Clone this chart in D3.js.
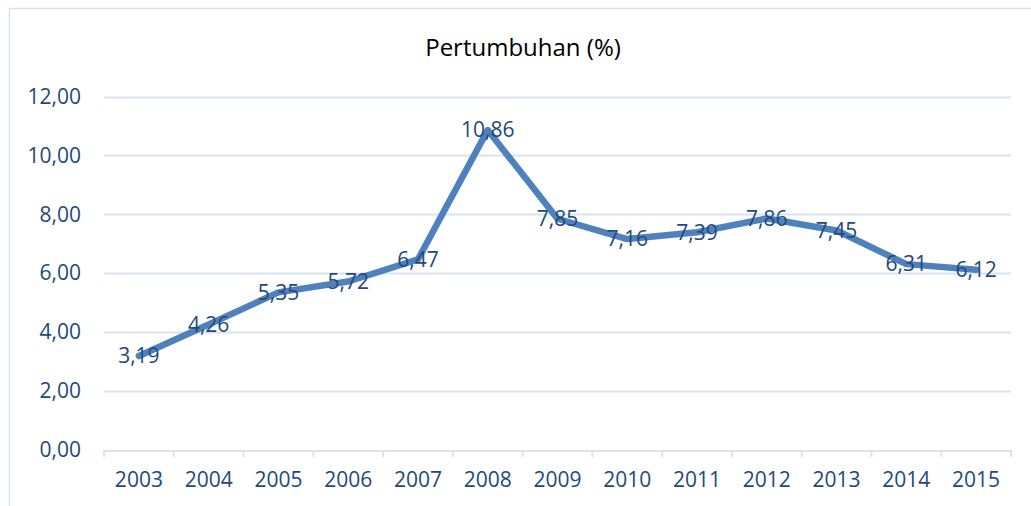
<!DOCTYPE html>
<html><head><meta charset="utf-8">
<script src="https://cdn.jsdelivr.net/npm/d3@7"></script>
<style>html,body{margin:0;padding:0;background:#fff;}svg{display:block;}</style>
</head><body>
<svg id="chart" width="1031" height="506"></svg>
<script>
const title = "Pertumbuhan (%)";
const years = ["2003","2004","2005","2006","2007","2008","2009","2010","2011","2012","2013","2014","2015"];
const growth = [3.19,4.26,5.35,5.72,6.47,10.86,7.85,7.16,7.39,7.86,7.45,6.31,6.12];
const yTicks = [0,2,4,6,8,10,12];

const svg = d3.select("#chart");
const W = 1031, H = 506;
const font = "'Open Sans', sans-serif";
const textColor = "#23497B";
const fmt = v => d3.format(".2f")(v).replace(".", ",");

// chart area border (top and left visible)
svg.append("line").attr("x1",9.5).attr("x2",W).attr("y1",8.5).attr("y2",8.5)
  .attr("stroke","#D5E1F1").attr("stroke-width",1.5);
svg.append("line").attr("x1",9.5).attr("x2",9.5).attr("y1",8).attr("y2",H)
  .attr("stroke","#D5E1F1").attr("stroke-width",1.5);

const x = d3.scaleBand().domain(years).range([104, 1011]);
const y = d3.scaleLinear().domain([0,12]).range([450, 96.5]);

// gridlines
svg.append("g").selectAll("line").data(yTicks.filter(d=>d>0)).join("line")
  .attr("x1",104).attr("x2",1011)
  .attr("y1",d=>Math.round(y(d))+0.5).attr("y2",d=>Math.round(y(d))+0.5)
  .attr("stroke","#D9E4F2").attr("stroke-width",2);

// y axis labels
const yAxis = svg.append("g").attr("transform","translate(81,0)")
  .call(d3.axisLeft(y).tickValues(yTicks).tickFormat(fmt).tickSize(0).tickPadding(0));
yAxis.select(".domain").remove();
yAxis.selectAll("text").attr("font-family",font).attr("font-size",21).attr("fill",textColor);

// x axis
const xAxis = svg.append("g").attr("transform","translate(0,450.5)")
  .call(d3.axisBottom(x).tickSizeOuter(0).tickSize(0).tickPadding(22));
xAxis.select(".domain").attr("stroke","#D9E4F2").attr("stroke-width",2);
xAxis.selectAll("text").attr("font-family",font).attr("font-size",21).attr("fill",textColor);
// category boundary ticks
const bounds = years.map(d=>x(d)).concat([x(years[years.length-1])+x.bandwidth()]);
svg.append("g").selectAll("line").data(bounds).join("line")
  .attr("x1",d=>d).attr("x2",d=>d).attr("y1",450).attr("y2",457)
  .attr("stroke","#D9E4F2").attr("stroke-width",2);

// line
const line = d3.line().x((d,i)=>x(years[i])+x.bandwidth()/2).y(d=>y(d));
svg.append("path").datum(growth).attr("d",line).attr("fill","none")
  .attr("stroke","#4F81BD").attr("stroke-width",6.5)
  .attr("stroke-linejoin","round").attr("stroke-linecap","round");

// data labels centered on points
svg.append("g").selectAll("text").data(growth).join("text")
  .attr("x",(d,i)=>x(years[i])+x.bandwidth()/2)
  .attr("y",d=>y(d)).attr("dy","0.35em")
  .attr("text-anchor","middle").attr("font-family",font).attr("font-size",21)
  .attr("fill",textColor).text(fmt);

// title
svg.append("text").attr("x",523).attr("y",48).attr("dy","0.35em")
  .attr("text-anchor","middle").attr("font-family",font).attr("font-size",24)
  .attr("fill","#000").text(title);
</script>
</body></html>
